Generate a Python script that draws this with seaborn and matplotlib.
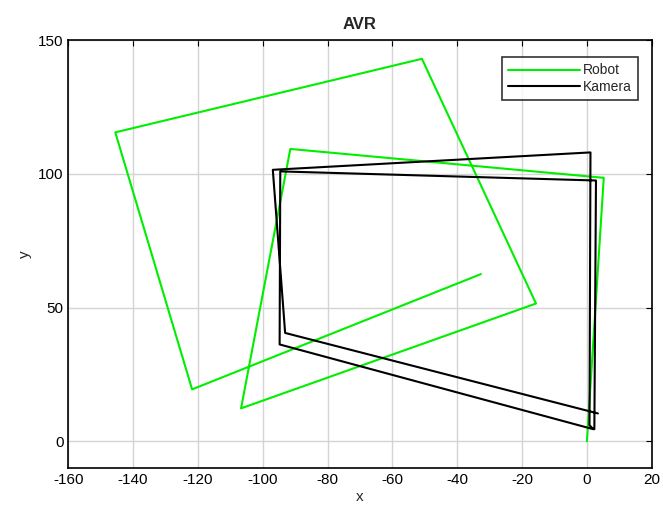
import matplotlib
matplotlib.use("Agg")
import matplotlib.pyplot as plt
import seaborn as sns
import pandas as pd

robot_x = [0, 5.2, -91.5, -106.7, -15.7, -50.9, -145.5, -121.8, -32.7]
robot_y = [0, 98.5, 109.3, 12.3, 51.5, 143.0, 115.5, 19.4, 62.5]

kamera_x = [2.3, 2.8, -94.6, -94.8, 2.0, 0.8, 1.1, -96.9, -93.1, 3.4]
kamera_y = [4.5, 97.5, 100.9, 36.2, 4.5, 6.0, 108.0, 101.5, 40.5, 10.4]

sns.set_style("white")
plt.rcParams['font.family'] = ['Liberation Sans', 'DejaVu Sans']
plt.rcParams['axes.unicode_minus'] = False

df_r = pd.DataFrame({"x": robot_x, "y": robot_y, "order": range(len(robot_x))})
df_k = pd.DataFrame({"x": kamera_x, "y": kamera_y, "order": range(len(kamera_x))})

fig = plt.figure(figsize=(6.63, 5.14), dpi=100)
ax = fig.add_axes([0.103, 0.0895, 0.880, 0.8325])

sns.lineplot(data=df_r, x="x", y="y", sort=False, estimator=None, color="#00ee00",
             linewidth=1.5, ax=ax, label="Robot")
sns.lineplot(data=df_k, x="x", y="y", sort=False, estimator=None, color="black",
             linewidth=1.5, ax=ax, label="Kamera")

ax.set_xlim(-160, 20)
ax.set_ylim(-10, 150)
ax.set_xticks(range(-160, 21, 20))
ax.set_yticks([0, 50, 100, 150])
ax.grid(True, color="#d4d4d4", linewidth=1.0)
ax.tick_params(direction="in", top=True, right=True, length=4, labelsize=11, colors="black")
for s in ax.spines.values():
    s.set_color("black")
    s.set_linewidth(1.2)
ax.set_title("AVR", fontsize=12, fontweight="bold", pad=8)
ax.set_xlabel("x", fontsize=11, labelpad=2)
ax.set_ylabel("y", fontsize=11)
leg = ax.legend(loc="upper right", bbox_to_anchor=(0.977, 0.96), frameon=True, fancybox=False,
                fontsize=10, edgecolor="black", borderaxespad=0, handlelength=5.2, borderpad=0.45,
                handletextpad=0.2, labelspacing=0.15)
leg.get_frame().set_linewidth(1.2)

fig.savefig("out.png", dpi=100)
